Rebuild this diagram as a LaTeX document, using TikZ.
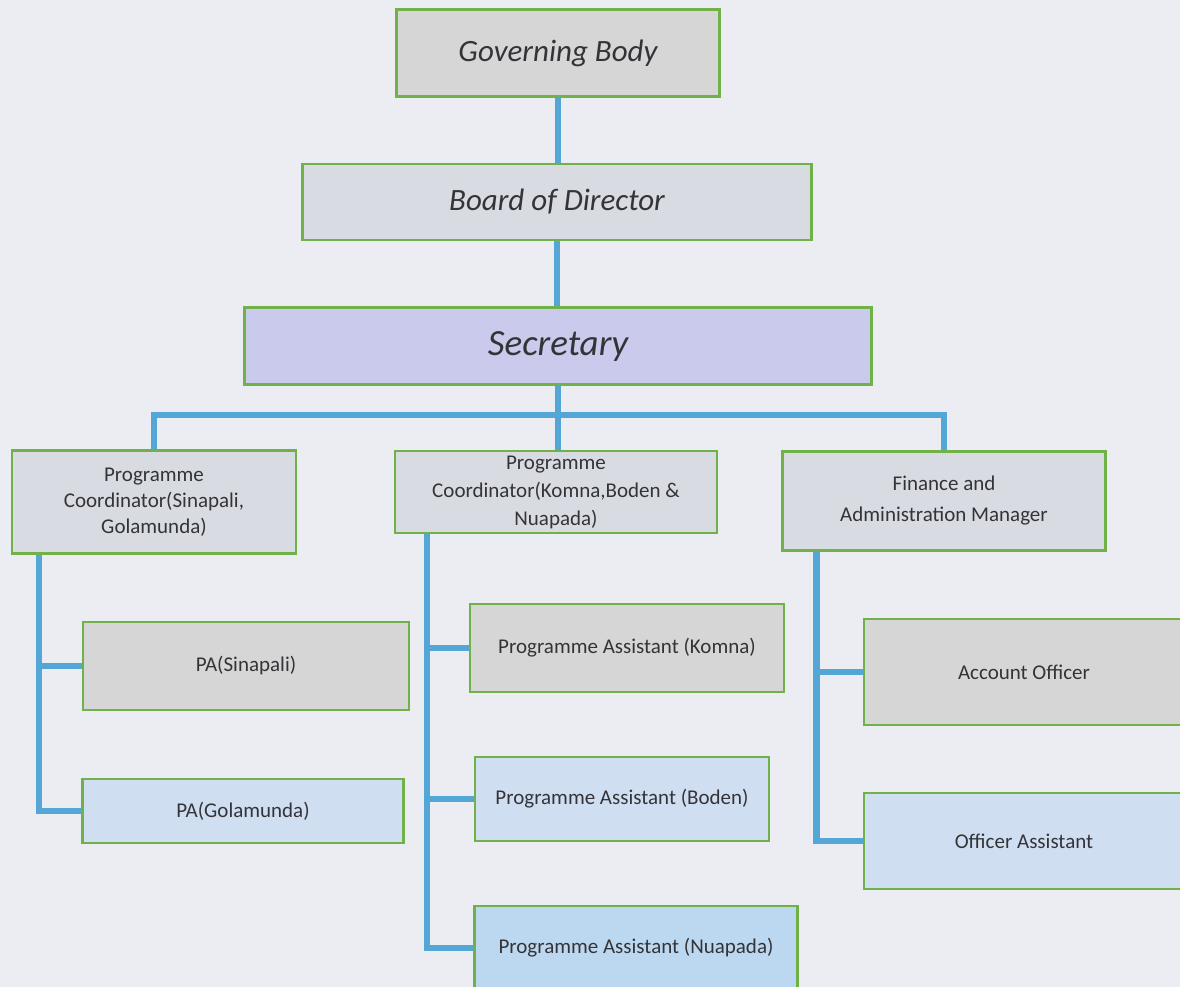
\documentclass[tikz,border=0pt]{standalone}
\usepackage{fontspec}
\setmainfont{Carlito}
\usetikzlibrary{backgrounds}
\definecolor{paper}{RGB}{236,237,242}
\definecolor{boxline}{RGB}{112,178,72}
\definecolor{linkblue}{RGB}{84,166,214}
\definecolor{grayfill}{RGB}{214,214,214}
\definecolor{marblefill}{RGB}{216,219,226}
\definecolor{lilacfill}{RGB}{202,202,236}
\definecolor{bluefill}{RGB}{208,222,242}
\definecolor{deepbluefill}{RGB}{188,216,240}
\definecolor{ink}{RGB}{52,52,56}
\tikzset{
  box/.style={draw=boxline, line width=2.5pt, text=ink, align=center, inner sep=0pt},
  link/.style={draw=linkblue, line width=6.5pt},
  big/.style={font=\fontsize{31}{36}\selectfont\itshape},
  small/.style={font=\fontsize{21}{26}\selectfont}
}
\begin{document}
\begin{tikzpicture}[x=1pt,y=-1pt]
\useasboundingbox (0,0) rectangle (1180,987);
\clip (0,0) rectangle (1180,987);

\node[box, big, fill=grayfill, minimum width=323pt, minimum height=87pt] (gov) at (558,53) {Governing Body};
\node[box, big, fill=marblefill, minimum width=509pt, minimum height=76pt] (bod) at (557,202) {Board of Director};
\node[box, fill=lilacfill, minimum width=627pt, minimum height=77pt, font=\fontsize{37}{42}\selectfont\itshape] (sec) at (558,346) {Secretary};

\node[box, small, fill=marblefill, minimum width=284pt, minimum height=103pt] (pcs) at (154,502) {Programme\\Coordinator(Sinapali,\\Golamunda)};
\node[box, small, fill=marblefill, minimum width=322pt, minimum height=82pt, font=\fontsize{21}{28}\selectfont] (pck) at (556,492) {Programme\\Coordinator(Komna,Boden \&\\Nuapada)};
\node[box, small, fill=marblefill, minimum width=323pt, minimum height=99pt] (fin) at (944,501) {Finance and\\[5pt]Administration Manager};

\node[box, small, fill=grayfill, minimum width=326pt, minimum height=88pt] (pas) at (246,666) {PA(Sinapali)};
\node[box, small, fill=bluefill, minimum width=321pt, minimum height=64pt] (pag) at (243,811) {PA(Golamunda)};

\node[box, small, fill=grayfill, minimum width=314pt, minimum height=88pt] (pak) at (627,648) {Programme Assistant (Komna)};
\node[box, small, fill=bluefill, minimum width=294pt, minimum height=84pt] (pab) at (622,799) {Programme Assistant (Boden)};
\node[box, small, fill=deepbluefill, minimum width=323pt, minimum height=84pt] (pan) at (636,948) {Programme Assistant (Nuapada)};

\node[box, small, fill=grayfill, minimum width=320pt, minimum height=106pt] (acc) at (1024,672) {Account Officer};
\node[box, small, fill=bluefill, minimum width=320pt, minimum height=96pt] (oas) at (1024,841) {Officer Assistant};

\begin{scope}[on background layer]
\fill[paper] (0,0) rectangle (1180,987);
\coordinate (bus) at (558,415);
\draw[link] (gov.south) -- (gov.south |- bod.north);
\draw[link] (bod.south) -- (bod.south |- sec.north);
\draw[link] (sec.south) -- (bus);
\draw[link] (pcs.north) |- (bus) -| (fin.north);
\draw[link] (bus) -- (bus |- pck.north);

\draw[link] ([xshift=28pt]pcs.south west) |- (pas.west);
\draw[link] ([xshift=28pt]pcs.south west) |- (pag.west);
\draw[link] ([xshift=33pt]pck.south west) |- (pak.west);
\draw[link] ([xshift=33pt]pck.south west) |- (pab.west);
\draw[link] ([xshift=33pt]pck.south west) |- (pan.west);
\draw[link] ([xshift=35pt]fin.south west) |- (acc.west);
\draw[link] ([xshift=35pt]fin.south west) |- (oas.west);
\end{scope}
\end{tikzpicture}
\end{document}
